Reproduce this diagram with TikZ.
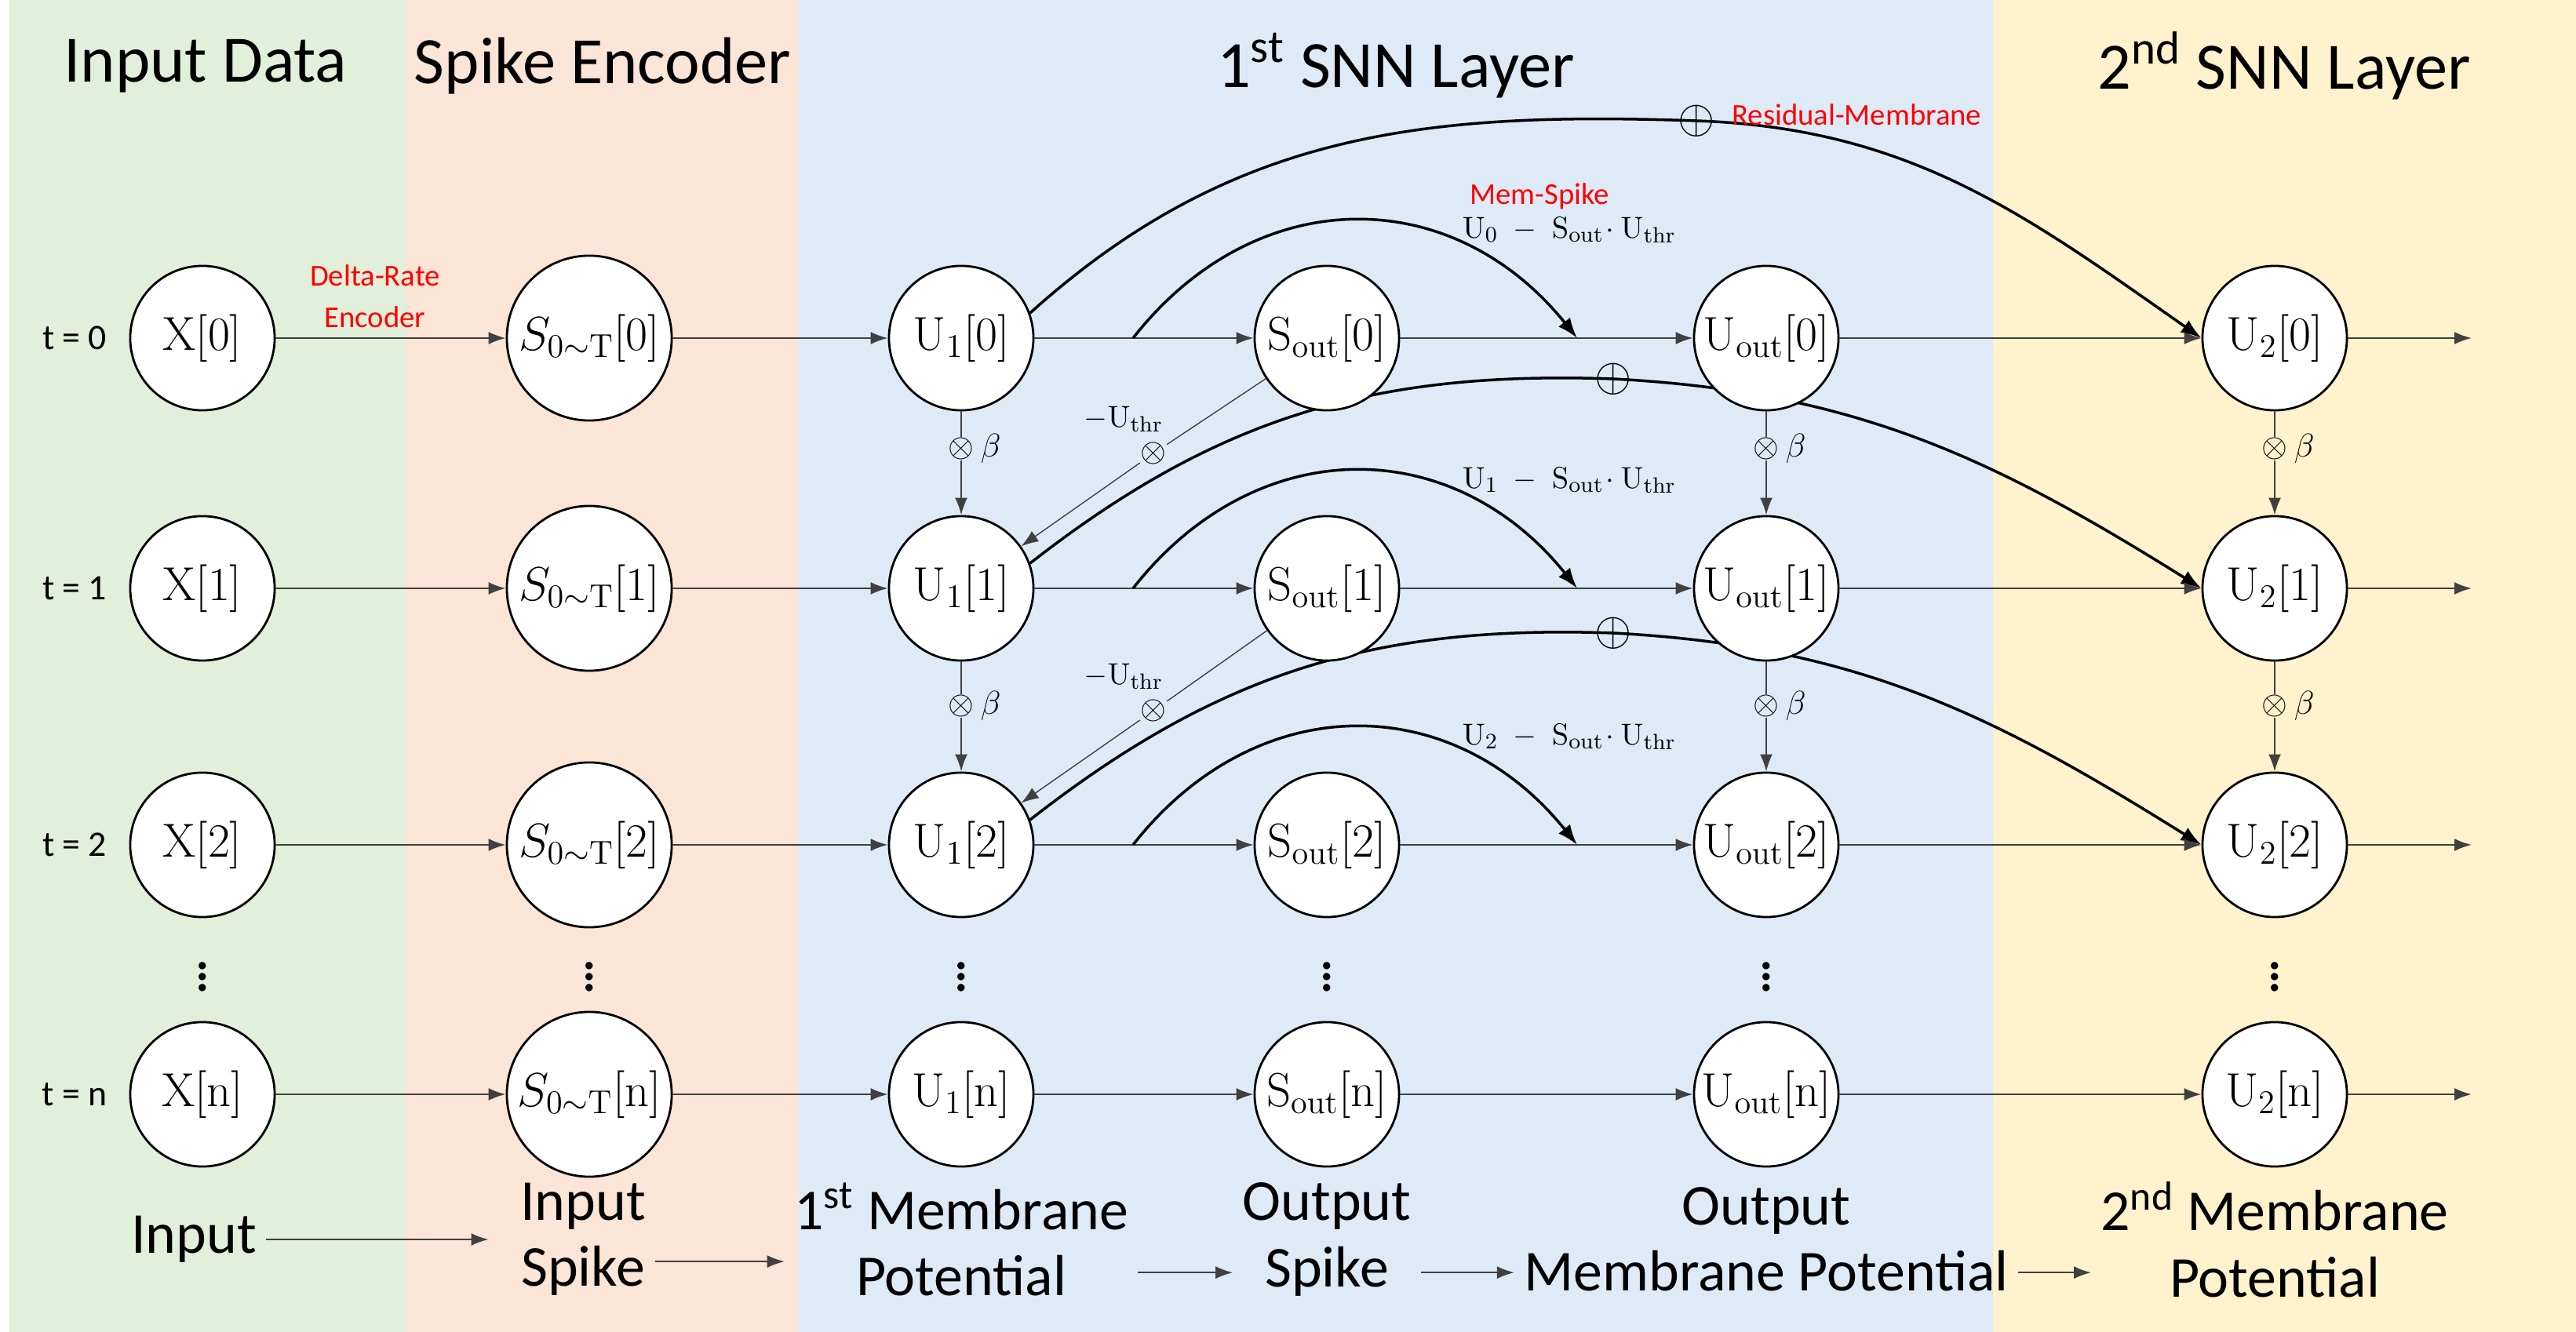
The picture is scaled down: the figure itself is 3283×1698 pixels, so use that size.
\documentclass[tikz,border=0pt]{standalone}
\usepackage[no-math]{fontspec}
\setmainfont{Carlito}
\usetikzlibrary{arrows.meta}
\pgfdeclarelayer{back}
\pgfdeclarelayer{mid}
\pgfsetlayers{back,mid,main}
\definecolor{bgGreen}{HTML}{E2EFDA}
\definecolor{bgOrange}{HTML}{FBE5D6}
\definecolor{bgBlue}{HTML}{DEEBF7}
\definecolor{bgYellow}{HTML}{FFF2CC}
\tikzset{
    neuron/.style={circle, draw, thick, fill=white, minimum size=1.84cm, inner sep=0pt, font=\fontsize{17}{19}\selectfont},
    encnode/.style={neuron, minimum size=2.1cm},
    flow/.style={-{Latex[length=2.2mm,width=1.6mm]}, line width=0.6pt, black!75},
    skip/.style={-{Latex[length=2.6mm,width=1.9mm]}, line width=1pt},
    mult/.style={inner sep=0pt, font=\fontsize{13}{13}\selectfont},
    addop/.style={inner sep=0pt, font=\fontsize{17}{17}\selectfont},
    title/.style={font=\fontsize{24}{28}\selectfont},
    bottom/.style={font=\fontsize{21}{24}\selectfont, align=center},
    tlabel/.style={font=\fontsize{13}{15}\selectfont},
    redlabel/.style={text=red, font=\fontsize{11}{13}\selectfont, align=center},
    formula/.style={font=\fontsize{11}{13}\selectfont},
    vdots/.style={font=\fontsize{22}{22}\selectfont}
}
\begin{document}
\begin{tikzpicture}[x=0.01cm, y=-0.01cm]
    \useasboundingbox (0,0) rectangle (3283,1698);

    % column backgrounds
    \begin{pgfonlayer}{back}
        \fill[bgGreen] (12,0) rectangle (518,1698);
        \fill[bgOrange] (518,0) rectangle (1018,1698);
        \fill[bgBlue] (1018,0) rectangle (2540,1698);
        \fill[bgYellow] (2540,0) rectangle (3283,1698);
    \end{pgfonlayer}

    % titles
    \node[title] (tIn) at (262,84) {Input Data};
    \node[title] (tEnc) at (768,84) {Spike Encoder};
    \node[title] (tL1) at (1779,84) {1\textsuperscript{st} SNN Layer};
    \node[title] (tL2) at (2911,84) {2\textsuperscript{nd} SNN Layer};

    % neurons per time step
    \foreach \r/\y/\k in {0/431/0, 1/750/1, 2/1077/2, n/1395/n} {
        \node[tlabel] (t\r) at (95,\y) {t = \k};
        \node[neuron] (X\r) at (258,\y) {$\mathrm{X}[\mathrm{\k}]$};
        \node[encnode] (S\r) at (751,\y) {$S_{0\sim\mathrm{T}}[\mathrm{\k}]$};
        \node[neuron] (U\r) at (1225,\y) {$\mathrm{U}_1[\mathrm{\k}]$};
        \node[neuron] (So\r) at (1691,\y) {$\mathrm{S_{out}}[\mathrm{\k}]$};
        \node[neuron] (Uo\r) at (2251,\y) {$\mathrm{U_{out}}[\mathrm{\k}]$};
        \node[neuron] (V\r) at (2899,\y) {$\mathrm{U}_2[\mathrm{\k}]$};
        \coordinate (end\r) at (3150,\y);
        \draw[flow] (X\r) -- (S\r);
        \draw[flow] (S\r) -- (U\r);
        \draw[flow] (U\r) -- (So\r);
        \draw[flow] (So\r) -- (Uo\r);
        \draw[flow] (Uo\r) -- (V\r);
        \draw[flow] (V\r) -- (end\r);
    }
    \node[redlabel] (dre) at (478,378) {Delta-Rate\\[2pt]Encoder};

    % vertical dots
    \foreach \c/\x in {X/258, S/751, U/1225, So/1691, Uo/2251, V/2899}
        \node[vdots] (dots\c) at (\x,1235) {$\vdots$};

    % decay and reset between steps
    \foreach \a/\b/\ym in {0/1/572, 1/2/900} {
        \node[mult] (bU\a) at (1225,\ym) {$\otimes$};
        \node[mult] (bUo\a) at (2251,\ym) {$\otimes$};
        \node[mult] (bV\a) at (2899,\ym) {$\otimes$};
        \node[mult, right=2pt] at (bU\a.east) {$\beta$};
        \node[mult, right=2pt] at (bUo\a.east) {$\beta$};
        \node[mult, right=2pt] at (bV\a.east) {$\beta$};
        \draw[flow] (U\a) -- (bU\a) -- (U\b);
        \draw[flow] (Uo\a) -- (bUo\a) -- (Uo\b);
        \draw[flow] (V\a) -- (bV\a) -- (V\b);
        \node[mult] (th\a) at (1470,\ym+6) {$\otimes$};
        \node[formula] (thl\a) at (1432,\ym-38) {$-\mathrm{U_{thr}}$};
        \draw[flow, line width=0.4pt] (So\a) -- (th\a) -- (U\b);
    }

    % mem-spike paths
    \foreach \r/\y in {0/431, 1/750, 2/1077} {
        \coordinate (ms\r) at (1444,\y);
        \coordinate (me\r) at (2010,\y);
        \draw[skip] (ms\r) .. controls (1600,\y-199) and (1850,\y-199) .. (me\r);
        \node[formula] (ml\r) at (2000,\y-138) {$\mathrm{U_{\r}\;-\;S_{out}\!\cdot U_{thr}}$};
    }
    \node[redlabel] (msl) at (1962,250) {Mem-Spike};

    % residual membrane paths
    \node[addop] (ad0) at (2162,154) {$\oplus$};
    \node[addop] (ad1) at (2056,483) {$\oplus$};
    \node[addop] (ad2) at (2056,807) {$\oplus$};
    \node[redlabel, anchor=west] (rml) at (2195,146) {Residual-Membrane};
    \begin{pgfonlayer}{mid}
        \draw[skip] (U0.20) to[out=42,in=178] (ad0.center) to[out=-2,in=145] (V0.west);
        \draw[skip] (U1.20) to[out=38,in=178] (ad1.center) to[out=-3,in=148] (V1.west);
        \draw[skip] (U2.20) to[out=38,in=178] (ad2.center) to[out=-3,in=148] (V2.west);
    \end{pgfonlayer}

    % stage labels
    \node[bottom] (bIn) at (247,1580) {Input};
    \node[bottom] (bSp) at (743,1580) {Input\\Spike};
    \node[bottom] (bM1) at (1225,1580) {1\textsuperscript{st} Membrane\\Potential};
    \node[bottom] (bOs) at (1691,1580) {Output\\Spike};
    \node[bottom] (bOm) at (2251,1580) {Output\\Membrane Potential};
    \node[bottom] (bM2) at (2899,1580) {2\textsuperscript{nd} Membrane\\Potential};
    \draw[flow] (bIn.east) -- ([xshift=-8pt]bSp.west);
    \draw[flow] ([yshift=-8pt]bSp.east) -- ([yshift=-8pt]bM1.west);
    \draw[flow] ([yshift=-12pt]bM1.east) -- ([yshift=-12pt]bOs.west);
    \draw[flow] ([yshift=-12pt]bOs.east) -- ([yshift=-12pt]bOm.west);
    \draw[flow] ([yshift=-12pt]bOm.east) -- ([yshift=-12pt]bM2.west);
\end{tikzpicture}
\end{document}
